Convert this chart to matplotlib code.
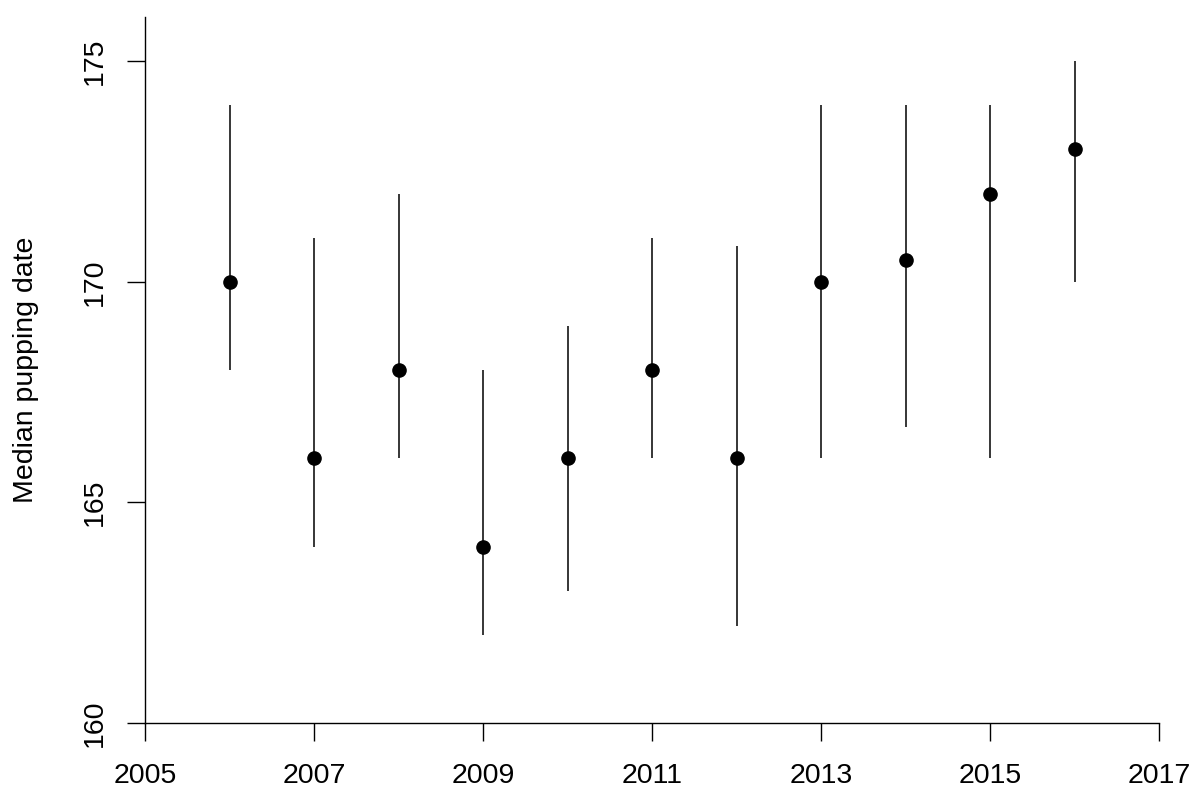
import matplotlib
matplotlib.use("Agg")
import matplotlib.pyplot as plt

plt.rcParams["font.family"] = ["Liberation Sans", "DejaVu Sans"]

# median pupping date per year with lower / upper range
years = [2006, 2007, 2008, 2009, 2010, 2011, 2012, 2013, 2014, 2015, 2016]
median = [170, 166, 168, 164, 166, 168, 166, 170, 170.5, 172, 173]
lower = [168, 164, 166, 162, 163, 166, 162.2, 166, 166.7, 166, 170]
upper = [174, 171, 172, 168, 169, 171, 170.8, 174, 174, 174, 175]

x_ticks = [2005, 2007, 2009, 2011, 2013, 2015, 2017]
y_ticks = [160, 165, 170, 175]

fig = plt.figure(figsize=(11.99, 7.91), dpi=100)
ax = fig.add_axes([145 / 1199, 68 / 791, 1014 / 1199, 706 / 791])

ax.vlines(years, lower, upper, color="black", linewidth=1.1)
ax.plot(years, median, "o", color="black", markersize=9.5, linestyle="none")

ax.set_xlim(2005, 2017)
ax.set_ylim(160, 176)
ax.set_xticks(x_ticks)
ax.set_yticks(y_ticks)

for side in ["top", "right"]:
    ax.spines[side].set_visible(False)
for side in ["left", "bottom"]:
    ax.spines[side].set_linewidth(1.0)

ax.tick_params(axis="both", direction="out", length=13, width=1.0, labelsize=20.5)
ax.tick_params(axis="x", pad=16)
ax.tick_params(axis="y", pad=14)
for lbl in ax.get_yticklabels():
    lbl.set_rotation(90)
    lbl.set_va("center")

ax.set_ylabel("Median pupping date", fontsize=20.5)
ax.yaxis.set_label_coords(-0.105, 0.5)

fig.savefig("out.png", dpi=100, facecolor="white")
